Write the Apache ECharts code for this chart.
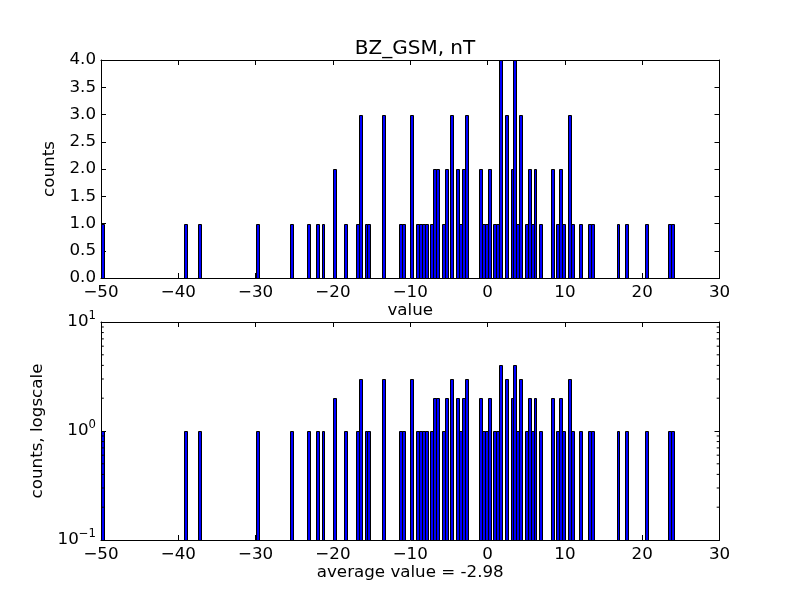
<!DOCTYPE html>
<html><head><meta charset="utf-8">
<script src="https://cdn.jsdelivr.net/npm/echarts@6/dist/echarts.min.js"></script>
<style>html,body{margin:0;padding:0;background:#fff}#c{width:800px;height:600px}</style>
</head><body><div id="c"></div>
<script>
// ---- data ----
const titleText = 'BZ_GSM, nT';
const topYName = 'counts';
const topXName = 'value';
const botYName = 'counts, logscale';
const botXName = 'average value = -2.98';
const histMin = -50;
const histMax = 24.1;
const nBins = 200;
const binIdx = [0, 29, 34, 54, 66, 72, 75, 77, 81, 85, 89, 90, 92, 93, 98, 104, 105, 108,
  110, 111, 112, 113, 115, 116, 117, 119, 120, 122, 124, 125, 126, 127, 132, 133, 134, 135,
  137, 138, 139, 141, 143, 144, 145, 146, 148, 149, 150, 151, 153, 157, 159, 160, 161, 163,
  164, 167, 170, 171, 180, 183, 190, 198, 199];
const counts = [1, 1, 1, 1, 1, 1, 1, 1, 2, 1, 1, 3, 1, 1, 3, 1, 1, 3,
  1, 1, 1, 1, 1, 2, 2, 1, 2, 3, 2, 1, 2, 3, 2, 1, 1, 2,
  1, 1, 4, 3, 2, 4, 1, 3, 1, 2, 1, 2, 1, 2, 1, 2, 1, 3,
  1, 1, 1, 1, 1, 1, 1, 1, 1];
const xTicks = [-50, -40, -30, -20, -10, 0, 10, 20, 30];
const yTicks = [0, 0.5, 1, 1.5, 2, 2.5, 3, 3.5, 4];
const logTicks = [0.1, 1, 10];
const logMinorTicks = [0.2, 0.3, 0.4, 0.5, 0.6, 0.7, 0.8, 0.9, 2, 3, 4, 5, 6, 7, 8, 9];

// ---- build ----
const FONT = 'DejaVu Sans';
const FS = 16.7;
const binW = (histMax - histMin) / nBins;
const barData = binIdx.map((k, i) => [histMin + k * binW, histMin + (k + 1) * binW, counts[i]]);
const xMin = xTicks[0], xMax = xTicks[xTicks.length - 1];

function minusFmt(v) { return v < 0 ? '\u2212' + Math.abs(v) : String(v); }
function snap(v) { return Math.round(v) + 0.5; }

function renderBar(base) {
  return function (params, api) {
    const p0 = api.coord([api.value(0), api.value(2)]);
    const p1 = api.coord([api.value(1), base]);
    const x0 = snap(p0[0]), x1 = snap(p1[0]);
    const y0 = snap(p0[1]), y1 = snap(p1[1]);
    return {
      type: 'rect',
      shape: { x: x0, y: y0, width: Math.max(1, x1 - x0), height: y1 - y0 },
      style: { fill: '#0000ff', stroke: '#000000', lineWidth: 1 }
    };
  };
}

const tickStyle = { show: true, inside: true, length: 5, lineStyle: { color: '#000', width: 1 } };
const lineStyle = { show: true, onZero: false, lineStyle: { color: '#000', width: 1 } };
const nameStyle = { fontFamily: FONT, fontSize: FS, color: '#000' };

function xAxes(gi, name) {
  return [
    { type: 'value', gridIndex: gi, position: 'bottom', min: xMin, max: xMax, interval: 10,
      axisLine: lineStyle, axisTick: tickStyle, splitLine: { show: false },
      axisLabel: { fontFamily: FONT, fontSize: FS, color: '#000', margin: 6, formatter: minusFmt },
      name: name, nameLocation: 'middle', nameGap: 24, nameTextStyle: nameStyle },
    { type: 'value', gridIndex: gi, position: 'top', min: xMin, max: xMax, interval: 10,
      axisLine: lineStyle, axisTick: tickStyle, splitLine: { show: false }, axisLabel: { show: false } }
  ];
}

const option = {
  animation: false,
  backgroundColor: '#fff',
  title: { text: titleText, left: 410, top: 34, textAlign: 'center',
    textStyle: { fontFamily: FONT, fontSize: 20, fontWeight: 'normal', color: '#000' } },
  grid: [
    { left: 101, top: 60, width: 618.5, height: 218 },
    { left: 101, top: 322, width: 618.5, height: 218 }
  ],
  xAxis: [].concat(xAxes(0, topXName), xAxes(1, botXName)),
  yAxis: [
    { type: 'value', gridIndex: 0, position: 'left', min: yTicks[0], max: yTicks[yTicks.length - 1], interval: 0.5,
      axisLine: lineStyle, axisTick: tickStyle, splitLine: { show: false },
      axisLabel: { fontFamily: FONT, fontSize: FS, color: '#000', margin: 5, formatter: v => v.toFixed(1) },
      name: topYName, nameLocation: 'middle', nameGap: 36, nameTextStyle: nameStyle },
    { type: 'value', gridIndex: 0, position: 'right', min: yTicks[0], max: yTicks[yTicks.length - 1], interval: 0.5,
      axisLine: lineStyle, axisTick: tickStyle, splitLine: { show: false }, axisLabel: { show: false } },
    { type: 'log', logBase: 10, gridIndex: 1, position: 'left', min: logTicks[0], max: logTicks[logTicks.length - 1],
      axisLine: lineStyle, axisTick: tickStyle, splitLine: { show: false },
      axisLabel: {
        margin: 5, color: '#000',
        formatter: v => { const e = Math.round(Math.log10(v)); return '{b|10}{s|' + (e < 0 ? '\u2212' + (-e) : e) + '}'; },
        rich: {
          b: { fontFamily: FONT, fontSize: FS, color: '#000', lineHeight: 17, verticalAlign: 'bottom' },
          s: { fontFamily: FONT, fontSize: 11.7, color: '#000', lineHeight: 12, verticalAlign: 'bottom', padding: [0, 0, 9, 0] }
        }
      },
      name: botYName, nameLocation: 'middle', nameGap: 51, nameTextStyle: nameStyle },
    { type: 'log', logBase: 10, gridIndex: 1, position: 'right', min: logTicks[0], max: logTicks[logTicks.length - 1],
      axisLine: lineStyle, axisTick: tickStyle, splitLine: { show: false }, axisLabel: { show: false } }
  ],
  series: [
    { type: 'custom', xAxisIndex: 0, yAxisIndex: 0, data: barData, encode: { x: [0, 1], y: 2 },
      renderItem: renderBar(yTicks[0]), clip: true, silent: true },
    { type: 'custom', xAxisIndex: 2, yAxisIndex: 2, data: barData, encode: { x: [0, 1], y: 2 },
      renderItem: renderBar(logTicks[0]), clip: true, silent: true },
    { type: 'custom', xAxisIndex: 2, yAxisIndex: 2, data: logMinorTicks.map(v => [xMin, v]), encode: { x: 0, y: 1 },
      silent: true,
      renderItem: function (params, api) {
        const v = api.value(1);
        const pl = api.coord([xMin, v]);
        const pr = api.coord([xMax, v]);
        const st = { stroke: '#000', lineWidth: 1 };
        return { type: 'group', children: [
          { type: 'line', shape: { x1: pl[0], y1: pl[1], x2: pl[0] + 2.8, y2: pl[1] }, style: st },
          { type: 'line', shape: { x1: pr[0], y1: pr[1], x2: pr[0] - 2.8, y2: pr[1] }, style: st }
        ] };
      } }
  ]
};

const chart = echarts.init(document.getElementById('c'), null, { renderer: 'canvas' });
chart.setOption(option);
</script>
</body></html>
